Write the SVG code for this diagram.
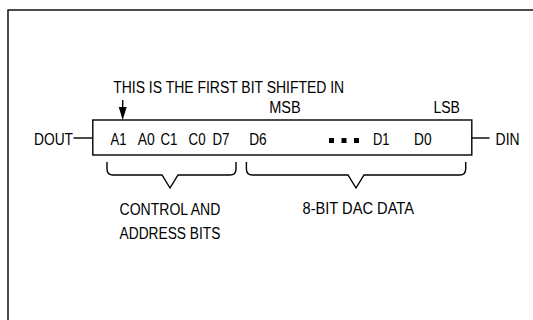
<svg xmlns="http://www.w3.org/2000/svg" width="533" height="320" viewBox="0 0 533 320">
<style>
text{font-family:"Liberation Sans",Arial,sans-serif;font-size:16px;fill:#000}
.ln{stroke:#000;stroke-width:1.4;fill:none}
.dot{fill:#000}
</style>
<rect width="533" height="320" fill="#fff"/>
<rect x="8" y="10" width="540" height="330" class="ln"/>
<g id="register">
<rect x="92.8" y="120" width="379" height="35" class="ln" fill="#fff"/>
<text x="110.5" y="145" textLength="16" lengthAdjust="spacingAndGlyphs">A1</text>
<text x="137.7" y="145" textLength="17" lengthAdjust="spacingAndGlyphs">A0</text>
<text x="160.4" y="145" textLength="17" lengthAdjust="spacingAndGlyphs">C1</text>
<text x="188.6" y="145" textLength="17" lengthAdjust="spacingAndGlyphs">C0</text>
<text x="212.4" y="145" textLength="17" lengthAdjust="spacingAndGlyphs">D7</text>
<text x="249.2" y="145" textLength="17.5" lengthAdjust="spacingAndGlyphs">D6</text>
<rect x="329" y="138" width="5" height="5" class="dot"/>
<rect x="341.5" y="138" width="5" height="5" class="dot"/>
<rect x="354" y="138" width="5" height="5" class="dot"/>
<text x="372.9" y="145" textLength="16.5" lengthAdjust="spacingAndGlyphs">D1</text>
<text x="414" y="145" textLength="17.5" lengthAdjust="spacingAndGlyphs">D0</text>
</g>
<g id="dout"><text x="34" y="145" textLength="39" lengthAdjust="spacingAndGlyphs">DOUT</text></g>
<g id="din"><text x="495.6" y="145" textLength="24" lengthAdjust="spacingAndGlyphs">DIN</text></g>
<g id="first-bit"><text x="113.2" y="92.5" textLength="231" lengthAdjust="spacingAndGlyphs">THIS IS THE FIRST BIT SHIFTED IN</text></g>
<g id="msb"><text x="269.2" y="113" textLength="31.5" lengthAdjust="spacingAndGlyphs">MSB</text></g>
<g id="lsb"><text x="433.4" y="113" textLength="26.5" lengthAdjust="spacingAndGlyphs">LSB</text></g>
<g id="control"><text x="119.6" y="215" textLength="100.7" lengthAdjust="spacingAndGlyphs">CONTROL AND</text><text x="119.6" y="239" textLength="100.7" lengthAdjust="spacingAndGlyphs">ADDRESS BITS</text></g>
<g id="dac"><text x="302.5" y="214" textLength="111.5" lengthAdjust="spacingAndGlyphs">8-BIT DAC DATA</text></g>
<g id="connectors">
<line x1="73.5" y1="138" x2="92.8" y2="138" class="ln"/>
<line x1="471.8" y1="138" x2="489.5" y2="138" class="ln"/>
<line x1="122.7" y1="100" x2="122.7" y2="108" class="ln"/>
<polygon points="118.7,107 126.7,107 122.7,120" fill="#000"/>
<path class="ln" d="M107,162 V169 Q107,175 113,175 H162 L170,188 L178,175 H230 Q236,175 236,169 V162"/>
<path class="ln" d="M246.4,162 V169 Q246.4,175 252.4,175 H348 L356,188 L364,175 H459.7 Q465.7,175 465.7,169 V162"/>
</g>
</svg>
